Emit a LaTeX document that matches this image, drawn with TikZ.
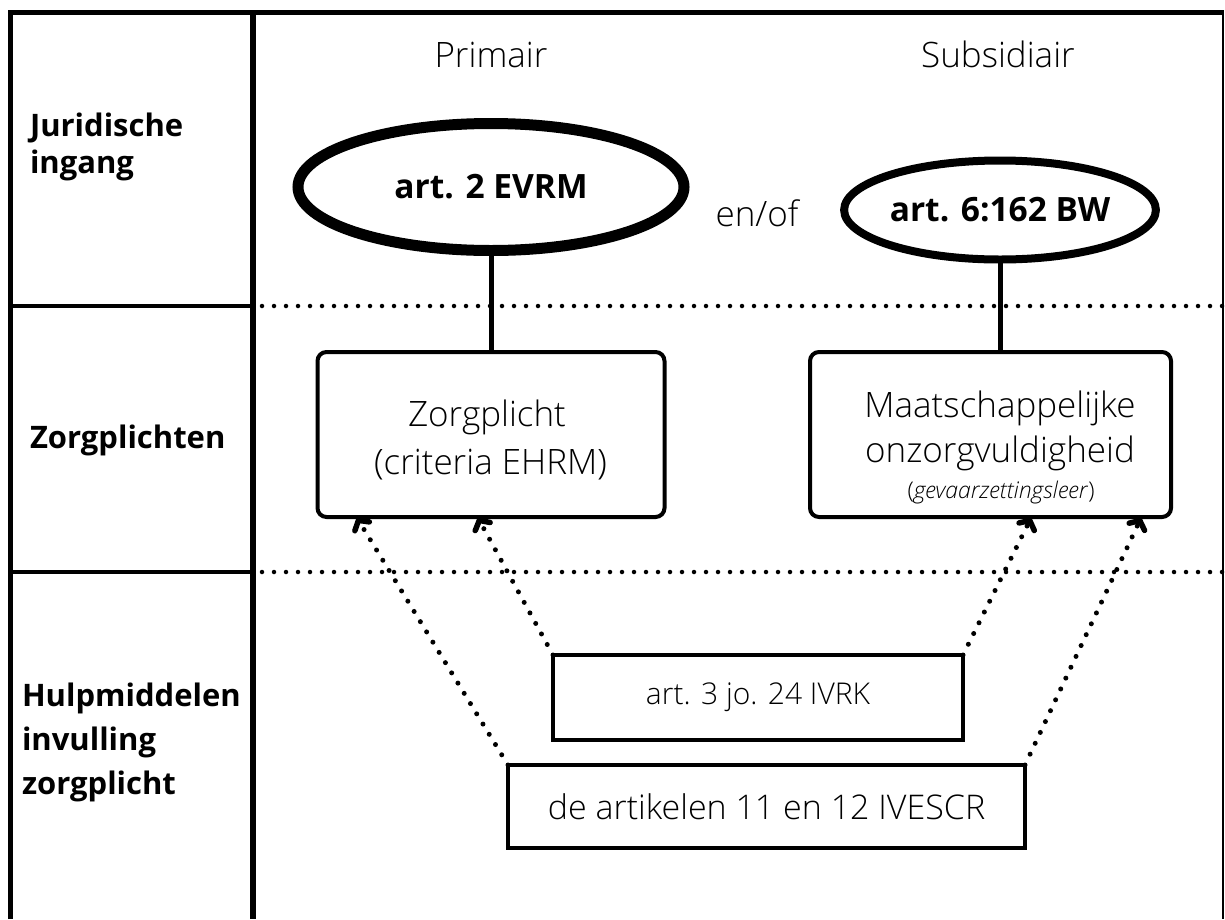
\documentclass[tikz,border=0pt]{standalone}
\usepackage{fontspec}
\setmainfont{Open Sans}
\newfontfamily\lightfont{Open Sans Light}
\usetikzlibrary{arrows.meta,shapes.geometric}
\begin{document}
\begin{tikzpicture}[x=1pt,y=-1pt,
  every node/.style={inner sep=0pt, outer sep=0pt},
  thin text/.style={font=\lightfont\fontsize{35}{42}\selectfont},
  small text/.style={font=\lightfont\fontsize{23}{28}\selectfont},
  head/.style={font=\bfseries\fontsize{31}{37}\selectfont, align=left, anchor=west},
  law/.style={draw, line width=#1, ellipse, font=\bfseries\fontsize{33.5}{40}\selectfont},
  duty/.style={draw, line width=4pt, rounded corners=9pt},
  aid/.style={draw, line width=3.5pt, font=\lightfont\fontsize{#1}{40}\selectfont},
  sep/.style={line width=3.5pt},
  stem/.style={line width=5pt},
  dots/.style={line width=5pt, line cap=round, dash pattern=on 0pt off 12pt},
  hint/.style={dots, -{Straight Barb[length=7pt, width=17pt, line width=5.5pt, round]}}
]
\useasboundingbox (0,0) rectangle (1225,919);
% outer frame (open at the bottom) and column divider
\draw[line width=5pt] (10,919) -- (10,12) -- (1224,12);
\draw[line width=2pt] (1223,12) -- (1223,919);
\draw[line width=6pt] (253,12) -- (253,919);
% row separators
\draw[sep] (10,306) -- (253,306);
\draw[sep] (10,572) -- (253,572);
\draw[dots, line width=4.5pt] (262,306) -- (1225,306);
\draw[dots, line width=4.5pt] (262,572) -- (1225,572);
% row headings
\node[head] (h1) at (30,147) {Juridische\\ingang};
\node[head] (h2) at (30,440) {Zorgplichten};
\node[head, font=\bfseries\fontsize{31}{44}\selectfont] (h3) at (22,742) {Hulpmiddelen\\invulling\\zorgplicht};
% column headings
\node[thin text, anchor=base] (c1) at (491,67) {Primair};
\node[thin text, anchor=base] (c2) at (998,67) {Subsidiair};
% legal bases
\node[law=11pt, minimum width=386pt, minimum height=127pt] (evrm) at (491,187) {art. 2 EVRM};
\node[law=8pt, minimum width=292pt, minimum height=99pt] (bw) at (1000,210) {art. 6:162 BW};
\node[thin text] (enof) at (757,213) {en/of};
% duties of care
\node[duty, minimum width=347pt, minimum height=165pt] (z1) at (491,434.5) {};
\node[thin text, anchor=base] (z1a) at (487,426) {Zorgplicht};
\node[thin text, anchor=base] (z1b) at (490.5,474) {(criteria EHRM)};
\node[duty, minimum width=361pt, minimum height=165pt] (z2) at (990.5,434.5) {};
\node[thin text, anchor=base] (z2a) at (1000,417) {Maatschappelijke};
\node[thin text, anchor=base] (z2b) at (1000,462) {onzorgvuldigheid};
\node[small text, anchor=base] (z2c) at (1001,498) {(\textit{gevaarzettingsleer})};
\draw[stem] (evrm.south) -- (z1.north -| evrm.south);
\draw[stem] (bw.south) -- (z2.north -| bw.south);
% aids for interpretation
\node[aid=30, minimum width=410pt, minimum height=85pt] (ivrk) at (758,697.5) {art. 3 jo. 24 IVRK};
\node[aid=34, minimum width=517pt, minimum height=83pt] (ivescr) at (766.5,806.5) {de artikelen 11 en 12 IVESCR};
% arrow targets on the duty boxes
\coordinate (t1) at (357,518);
\coordinate (t2) at (478,518);
\coordinate (t3) at (1031,518);
\coordinate (t4) at (1141,518);
\draw[hint] (ivescr.north west) -- (t1);
\draw[hint] (ivrk.north west) -- (t2);
\draw[hint] (ivrk.north east) -- (t3);
\draw[hint] (ivescr.north east) -- (t4);
\end{tikzpicture}
\end{document}
